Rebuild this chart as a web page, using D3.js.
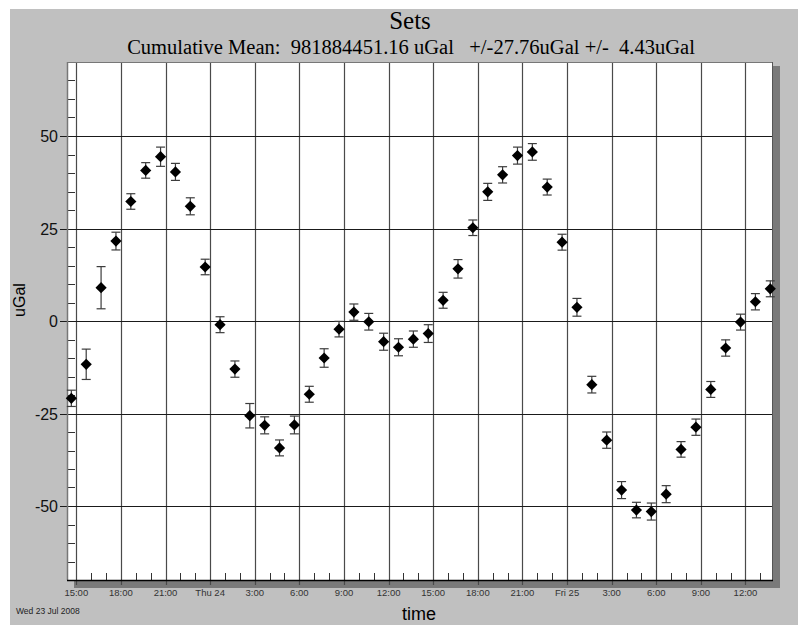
<!DOCTYPE html>
<html>
<head>
<meta charset="utf-8">
<script src="https://cdn.jsdelivr.net/npm/d3@7"></script>
<style>
  html, body { margin: 0; padding: 0; background: #fff; }
  svg { display: block; }
  .sans { font-family: "Liberation Sans", Arial, "DejaVu Sans", sans-serif; }
</style>
</head>
<body>
<svg id="chart" width="798" height="625"></svg>
<script>
// Hourly gravity set means (uGal, relative to the cumulative mean) and their errors
const setTimes = [
  "2008-07-23T14:40", "2008-07-23T15:40", "2008-07-23T16:40", "2008-07-23T17:40",
  "2008-07-23T18:40", "2008-07-23T19:40", "2008-07-23T20:40", "2008-07-23T21:40",
  "2008-07-23T22:40", "2008-07-23T23:40", "2008-07-24T00:40", "2008-07-24T01:40",
  "2008-07-24T02:40", "2008-07-24T03:40", "2008-07-24T04:40", "2008-07-24T05:40",
  "2008-07-24T06:40", "2008-07-24T07:40", "2008-07-24T08:40", "2008-07-24T09:40",
  "2008-07-24T10:40", "2008-07-24T11:40", "2008-07-24T12:40", "2008-07-24T13:40",
  "2008-07-24T14:40", "2008-07-24T15:40", "2008-07-24T16:40", "2008-07-24T17:40",
  "2008-07-24T18:40", "2008-07-24T19:40", "2008-07-24T20:40", "2008-07-24T21:40",
  "2008-07-24T22:40", "2008-07-24T23:40", "2008-07-25T00:40", "2008-07-25T01:40",
  "2008-07-25T02:40", "2008-07-25T03:40", "2008-07-25T04:40", "2008-07-25T05:40",
  "2008-07-25T06:40", "2008-07-25T07:40", "2008-07-25T08:40", "2008-07-25T09:40",
  "2008-07-25T10:40", "2008-07-25T11:40", "2008-07-25T12:40", "2008-07-25T13:40"
];

const setValues = [
  -20.9, -11.7, 9.0, 21.6, 32.3, 40.7, 44.4, 40.3, 31.0, 14.6, -1.0, -13.0,
  -25.6, -28.2, -34.3, -28.1, -19.8, -10.0, -2.2, 2.4, -0.2, -5.6, -7.1, -4.9,
  -3.4, 5.6, 14.1, 25.2, 34.9, 39.5, 44.7, 45.7, 36.2, 21.3, 3.7, -17.2,
  -32.2, -45.7, -51.1, -51.5, -46.8, -34.7, -28.7, -18.5, -7.3, -0.3, 5.2, 8.7
];

const setErrors = [
  2.2, 4.1, 5.7, 2.4, 2.1, 2.1, 2.6, 2.3, 2.3, 2.1, 2.15, 2.2,
  3.3, 2.3, 2.15, 2.4, 2.15, 2.5, 2.1, 2.2, 2.25, 2.3, 2.3, 2.2,
  2.4, 2.15, 2.5, 2.1, 2.3, 2.2, 2.3, 2.25, 2.15, 2.15, 2.4, 2.25,
  2.2, 2.3, 2.1, 2.3, 2.3, 2.1, 2.2, 2.15, 2.2, 2.15, 2.2, 2.15
];

// Axis ticks
const xTickTimes = [
  "2008-07-23T15:00", "2008-07-23T18:00", "2008-07-23T21:00", "2008-07-24T00:00",
  "2008-07-24T03:00", "2008-07-24T06:00", "2008-07-24T09:00", "2008-07-24T12:00",
  "2008-07-24T15:00", "2008-07-24T18:00", "2008-07-24T21:00", "2008-07-25T00:00",
  "2008-07-25T03:00", "2008-07-25T06:00", "2008-07-25T09:00", "2008-07-25T12:00"
];
const xTickLabels = [
  "15:00", "18:00", "21:00", "Thu 24", "3:00", "6:00", "9:00", "12:00",
  "15:00", "18:00", "21:00", "Fri 25", "3:00", "6:00", "9:00", "12:00"
];
const yTicks = [-50, -25, 0, 25, 50];
const yTickLabels = ["-50", "-25", "0", "25", "50"];

const titleText = "Sets";
const subtitleText = "Cumulative Mean:  981884451.16 uGal   +/-27.76uGal +/-  4.43uGal";
const xAxisTitle = "time";
const yAxisTitle = "uGal";
const startDateText = "Wed 23 Jul 2008";

// ---- layout ----
const plot = { left: 67, top: 62, right: 773, bottom: 580 };
const parse = d3.timeParse("%Y-%m-%dT%H:%M");
const serifFamily = "Liberation Serif, Times New Roman, Times, DejaVu Serif, serif";

const x = d3.scaleTime()
  .domain([new Date(2008, 6, 23, 14, 22, 30), new Date(2008, 6, 25, 13, 51, 0)])
  .range([plot.left, plot.right]);
const y = d3.scaleLinear()
  .domain([-70, 70])
  .range([plot.bottom, plot.top]);

const svg = d3.select("#chart");

// panel background
svg.append("rect").attr("x", 10).attr("y", 9).attr("width", 788).attr("height", 616)
  .attr("fill", "#c0c0c0");

// titles
svg.append("text").attr("font-family", serifFamily).attr("x", 410).attr("y", 29)
  .attr("text-anchor", "middle").attr("font-size", 25)
  .attr("fill", "#000").text(titleText);
const sub = svg.append("text").attr("font-family", serifFamily).attr("x", 411).attr("y", 54)
  .attr("text-anchor", "middle").attr("font-size", 18)
  .style("white-space", "pre")
  .attr("fill", "#000").text(subtitleText);
// size the subtitle so it spans the header band above the plot
{
  const w = sub.node().getComputedTextLength();
  if (w > 0) sub.attr("font-size", Math.min(21, 18 * 568 / w));
}

// plot frame with drop shadow
svg.append("rect")
  .attr("x", plot.left + 7).attr("y", plot.top + 4)
  .attr("width", plot.right - plot.left).attr("height", plot.bottom - plot.top + 4)
  .attr("fill", "#7a7a7a");
svg.append("rect")
  .attr("x", plot.left).attr("y", plot.top)
  .attr("width", plot.right - plot.left).attr("height", plot.bottom - plot.top)
  .attr("fill", "#fff");

const g = svg.append("g");

// vertical grid at every 3 hours
const xTicks = xTickTimes.map(parse);
g.selectAll("line.vgrid").data(xTicks).join("line")
  .attr("class", "vgrid")
  .attr("x1", d => Math.round(x(d)) + 0.5).attr("x2", d => Math.round(x(d)) + 0.5)
  .attr("y1", plot.top).attr("y2", plot.bottom + 5)
  .attr("stroke", "#4a4a4a").attr("stroke-width", 1.2);

// horizontal grid at major values
g.selectAll("line.hgrid").data(yTicks).join("line")
  .attr("class", "hgrid")
  .attr("x1", plot.left - 7).attr("x2", plot.right)
  .attr("y1", d => Math.round(y(d)) + 0.5).attr("y2", d => Math.round(y(d)) + 0.5)
  .attr("stroke", "#1a1a1a").attr("stroke-width", 1);

// minor y ticks every 5 uGal along the left edge
const yMinor = d3.range(-65, 70, 5).filter(v => v % 25 !== 0);
g.selectAll("line.yminor").data(yMinor).join("line")
  .attr("class", "yminor")
  .attr("x1", plot.left).attr("x2", plot.left + 8)
  .attr("y1", d => Math.round(y(d)) + 0.5).attr("y2", d => Math.round(y(d)) + 0.5)
  .attr("stroke", "#333").attr("stroke-width", 1);

// minor x ticks every hour along the bottom edge
const xMinor = d3.timeHour.range(x.domain()[0], x.domain()[1]).filter(d => d.getHours() % 3 !== 0);
g.selectAll("line.xminor").data(xMinor).join("line")
  .attr("class", "xminor")
  .attr("x1", d => Math.round(x(d)) + 0.5).attr("x2", d => Math.round(x(d)) + 0.5)
  .attr("y1", plot.bottom - 7).attr("y2", plot.bottom)
  .attr("stroke", "#333").attr("stroke-width", 1);

// frame edges
g.append("line").attr("x1", plot.left + 0.5).attr("x2", plot.left + 0.5)
  .attr("y1", plot.top).attr("y2", plot.bottom).attr("stroke", "#777").attr("stroke-width", 1.5);
g.append("line").attr("x1", plot.left).attr("x2", plot.right)
  .attr("y1", plot.top + 0.5).attr("y2", plot.top + 0.5).attr("stroke", "#777");
g.append("line").attr("x1", plot.right - 0.5).attr("x2", plot.right - 0.5)
  .attr("y1", plot.top).attr("y2", plot.bottom).attr("stroke", "#555");
g.append("line").attr("x1", plot.left).attr("x2", plot.right)
  .attr("y1", plot.bottom + 0.5).attr("y2", plot.bottom + 0.5).attr("stroke", "#000").attr("stroke-width", 1.5);

// axis tick labels
g.selectAll("text.xlab").data(xTicks).join("text")
  .attr("class", "xlab sans")
  .attr("x", d => x(d)).attr("y", 596)
  .attr("text-anchor", "middle").attr("font-size", 9.5)
  .attr("fill", "#333")
  .text((d, i) => xTickLabels[i]);

g.selectAll("text.ylab").data(yTicks).join("text")
  .attr("class", "ylab sans")
  .attr("x", 58).attr("y", d => y(d) + 6)
  .attr("text-anchor", "end").attr("font-size", 16)
  .attr("fill", "#111")
  .text((d, i) => yTickLabels[i]);

// axis titles
svg.append("text").attr("class", "sans").attr("x", 419).attr("y", 620)
  .attr("text-anchor", "middle").attr("font-size", 18)
  .attr("fill", "#000").text(xAxisTitle);
svg.append("text").attr("class", "sans")
  .attr("transform", "translate(25,300) rotate(-90)")
  .attr("text-anchor", "middle").attr("font-size", 16)
  .attr("fill", "#000").text(yAxisTitle);
svg.append("text").attr("class", "sans").attr("x", 16).attr("y", 614)
  .attr("font-size", 8.5)
  .attr("fill", "#222").text(startDateText);

// data: error bars + diamonds
const sets = setTimes.map((t, i) => ({ t: parse(t), v: setValues[i], e: setErrors[i] }));
const marks = g.append("g");
const bars = marks.selectAll("g.set").data(sets).join("g").attr("class", "set");
bars.append("line")
  .attr("x1", d => x(d.t)).attr("x2", d => x(d.t))
  .attr("y1", d => y(d.v + d.e)).attr("y2", d => y(d.v - d.e))
  .attr("stroke", "#3c3c3c").attr("stroke-width", 1.2);
bars.append("line")
  .attr("x1", d => x(d.t) - 4.5).attr("x2", d => x(d.t) + 4.5)
  .attr("y1", d => y(d.v + d.e)).attr("y2", d => y(d.v + d.e))
  .attr("stroke", "#3c3c3c").attr("stroke-width", 1.2);
bars.append("line")
  .attr("x1", d => x(d.t) - 4.5).attr("x2", d => x(d.t) + 4.5)
  .attr("y1", d => y(d.v - d.e)).attr("y2", d => y(d.v - d.e))
  .attr("stroke", "#3c3c3c").attr("stroke-width", 1.2);
const r = 5.6;
bars.append("path")
  .attr("d", d => {
    const cx = x(d.t), cy = y(d.v);
    return `M${cx},${cy - r}L${cx + r},${cy}L${cx},${cy + r}L${cx - r},${cy}Z`;
  })
  .attr("fill", "#000");
</script>
</body>
</html>
